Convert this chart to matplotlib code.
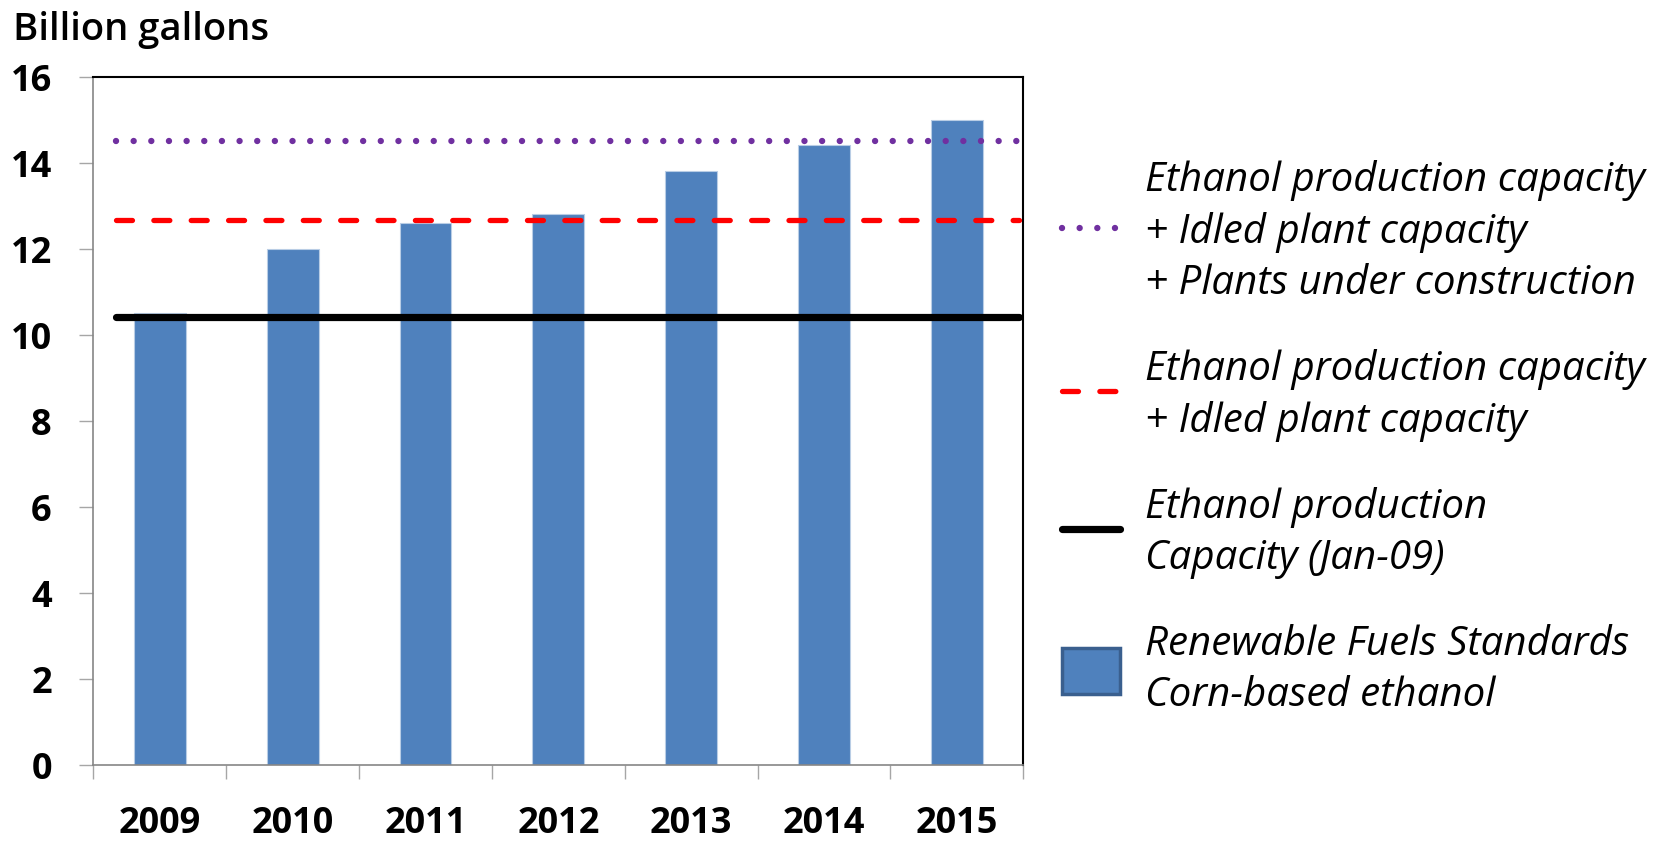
import numpy as np
import matplotlib
matplotlib.use("Agg")
import matplotlib.pyplot as plt
from matplotlib.patches import Patch

plt.rcParams['font.family'] = ['Open Sans', 'DejaVu Sans']
plt.rcParams['lines.scale_dashes'] = False

years = ['2009', '2010', '2011', '2012', '2013', '2014', '2015']
rfs_corn = [10.5, 12.0, 12.6, 12.8, 13.8, 14.4, 15.0]
cap_jan09 = 10.42
cap_idled = 12.66
cap_total = 14.5
yticks = [0, 2, 4, 6, 8, 10, 12, 14, 16]

labels = [
    "Ethanol production capacity\n+ Idled plant capacity\n+ Plants under construction",
    "Ethanol production capacity\n+ Idled plant capacity",
    "Ethanol production\nCapacity (Jan-09)",
    "Renewable Fuels Standards\nCorn-based ethanol",
]

bar_color = '#4F81BD'
purple = '#7030A0'
red = '#FF0000'

fig = plt.figure(figsize=(16.72, 8.53), dpi=100)
ax = fig.add_axes([0.0559, 0.1023, 0.612 - 0.0559, 0.9091 - 0.1023])

x = np.arange(len(years))
ax.bar(x, rfs_corn, width=0.39, color=bar_color, edgecolor='#B9CDE5',
       linewidth=0.8, zorder=2)

# capacity lines (drawn as shapes in the original, not full width)
xs = [-0.33, 6.47]
l_total, = ax.plot(xs, [cap_total] * 2, color=purple, lw=4.6,
                   dashes=(0.01, 12.7), dash_capstyle='round', zorder=3)
l_idled, = ax.plot(xs, [cap_idled] * 2, color=red, lw=3.8,
                   dashes=(11.5, 15.4), dash_capstyle='round', zorder=3)
l_jan, = ax.plot(xs, [cap_jan09] * 2, color='black', lw=5.2,
                 solid_capstyle='round', zorder=4)

ax.set_xlim(-0.5, len(years) - 0.5)
ax.set_ylim(0, 16)
ax.set_yticks(yticks)
ax.set_yticklabels([str(v) for v in yticks], fontsize=26, fontweight='bold')
ax.tick_params(axis='y', length=10, width=1, color='#A6A6A6', pad=20)

ax.set_xticks(x)
ax.set_xticklabels(years, fontsize=26, fontweight='bold')
ax.tick_params(axis='x', which='major', length=0, pad=29)
ax.set_xticks(np.arange(-0.5, len(years)), minor=True)
ax.tick_params(axis='x', which='minor', length=10, width=1, color='#A6A6A6')

for side in ['left', 'bottom']:
    ax.spines[side].set_color('#868686')
    ax.spines[side].set_linewidth(1.2)
for side in ['top', 'right']:
    ax.spines[side].set_color('black')
    ax.spines[side].set_linewidth(1.5)

fig.text(13 / 1672, 1 - 40 / 853, 'Billion gallons', fontsize=27.5,
         fontweight='semibold', ha='left', va='baseline')

handles = [
    l_total, l_idled, l_jan,
    Patch(facecolor=bar_color, edgecolor='#3A5F8E', linewidth=2.5),
]
leg = fig.legend(handles, labels, loc='upper left',
                 bbox_to_anchor=(1062 / 1672, 1 - 160 / 853),
                 frameon=False,
                 prop={'style': 'italic', 'size': 29, 'weight': 'medium'},
                 handlelength=1.45, handleheight=1.4, handletextpad=0.6,
                 labelspacing=1.12, borderpad=0, borderaxespad=0)
for t in leg.get_texts():
    t.set_linespacing(1.35)

fig.savefig('out.png', dpi=100)
